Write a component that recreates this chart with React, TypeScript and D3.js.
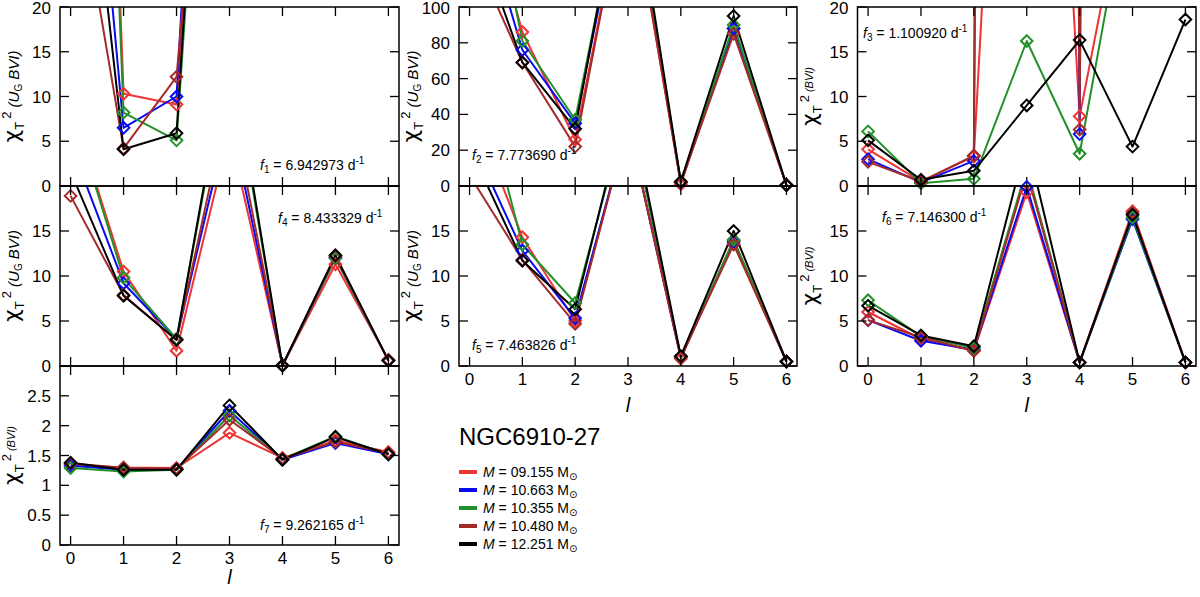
import React from 'react';
import * as d3 from 'd3';

const lValues = [0, 1, 2, 3, 4, 5, 6];
const massLabels = ['09.155', '10.663', '10.355', '10.480', '12.251'];
const seriesColors = ['#ee3434', '#0a0af0', '#23902a', '#a52a2a', '#000000'];

// rows: red, blue, green, brown, black ; columns: l = 0..6
const f1Values = [
  [170, 10.3, 9.1, 92, 100, 150, 90],
  [71, 6.5, 10.0, 115, 100, 150, 90],
  [156, 8.2, 5.1, 93, 100, 150, 90],
  [39, 4.2, 12.2, 80, 100, 150, 90],
  [57, 4.1, 5.9, 99, 100, 150, 90],
];
const f2Values = [
  [194, 86, 26, 175, 1.0, 88, 0.5],
  [176, 76, 35, 180, 2.0, 88, 0.5],
  [227, 81, 37, 185, 2.0, 90, 0.5],
  [135, 69, 22, 175, 2.0, 85, 0.5],
  [152, 69, 32, 190, 2.5, 95, 0.5],
];
const f3Values = [
  [4.1, 0.5, 3.3, 112, 7.8, 38, 60],
  [3.0, 0.4, 2.8, 1000, 5.8, 1000, 400],
  [6.1, 0.3, 0.8, 16.2, 3.6, 36, 50],
  [2.7, 0.5, 3.4, 1000, 6.3, 1000, 400],
  [5.1, 0.7, 1.7, 9.0, 16.3, 4.4, 18.6],
];
const f4Values = [
  [29.2, 10.5, 1.7, 26, 0.05, 11.3, 0.7],
  [24.7, 9.2, 3.0, 28, 0.05, 12.0, 0.6],
  [29, 9.8, 3.0, 35, 0.05, 12.0, 0.6],
  [18.9, 7.9, 2.9, 30, 0.05, 12.2, 0.6],
  [21.6, 7.8, 2.9, 36, 0.05, 12.3, 0.6],
];
const f5Values = [
  [29.5, 14.3, 5.0, 27, 0.8, 14.0, 0.5],
  [25.6, 12.8, 5.3, 27, 1.0, 13.8, 0.5],
  [36.2, 13.5, 7.0, 29, 1.0, 14.0, 0.5],
  [21.2, 11.8, 4.7, 27, 1.0, 13.5, 0.5],
  [24.3, 11.7, 6.3, 30, 1.1, 15.0, 0.5],
];
const f6Values = [
  [6.0, 3.0, 1.7, 19.3, 0.4, 17.2, 0.4],
  [5.1, 2.8, 1.8, 19.9, 0.4, 16.3, 0.4],
  [7.3, 3.3, 2.0, 22, 0.4, 16.5, 0.4],
  [5.1, 3.2, 1.7, 21.5, 0.4, 17.0, 0.4],
  [6.7, 3.4, 2.2, 25, 0.4, 16.8, 0.4],
];
const f7Values = [
  [1.35, 1.30, 1.29, 1.88, 1.46, 1.75, 1.56],
  [1.33, 1.26, 1.27, 2.25, 1.43, 1.71, 1.52],
  [1.29, 1.23, 1.26, 2.17, 1.44, 1.82, 1.52],
  [1.37, 1.29, 1.28, 2.10, 1.45, 1.73, 1.54],
  [1.38, 1.26, 1.26, 2.34, 1.43, 1.81, 1.52],
];

const frequencies = ['6.942973', '7.773690', '1.100920', '8.433329', '7.463826', '7.146300', '9.262165'];
const ticks20 = [0, 5, 10, 15, 20];
const ticks100 = [0, 20, 40, 60, 80, 100];
const ticks3 = [0, 0.5, 1, 1.5, 2, 2.5, 3];

const FONT = "'Liberation Sans', Arial, Helvetica, sans-serif";
const colX: [number, number][] = [[60, 399], [459, 797], [857.5, 1196]];
const rowY: [number, number][] = [[7, 186], [186, 366], [366, 545]];
const yLabelX = [19, 418, 817];
const lLabelOffset = [39, 46, 46];

type PanelDef = {
  idx: number;
  values: number[][];
  yMax: number;
  ticks: number[];
  col: number;
  row: number;
  band: 'UG' | 'BVI';
  note: [number, number];
  showTopLabel: boolean;
  xLabels: boolean;
};

const panels: PanelDef[] = [
  { idx: 1, values: f1Values, yMax: 20, ticks: ticks20, col: 0, row: 0, band: 'UG', note: [260, 170], showTopLabel: true, xLabels: false },
  { idx: 2, values: f2Values, yMax: 100, ticks: ticks100, col: 1, row: 0, band: 'UG', note: [472, 160], showTopLabel: true, xLabels: false },
  { idx: 3, values: f3Values, yMax: 20, ticks: ticks20, col: 2, row: 0, band: 'BVI', note: [863, 38], showTopLabel: true, xLabels: false },
  { idx: 4, values: f4Values, yMax: 20, ticks: ticks20, col: 0, row: 1, band: 'UG', note: [278, 223], showTopLabel: false, xLabels: false },
  { idx: 5, values: f5Values, yMax: 20, ticks: ticks20, col: 1, row: 1, band: 'UG', note: [472, 350], showTopLabel: false, xLabels: true },
  { idx: 6, values: f6Values, yMax: 20, ticks: ticks20, col: 2, row: 1, band: 'BVI', note: [882, 222], showTopLabel: false, xLabels: true },
  { idx: 7, values: f7Values, yMax: 3, ticks: ticks3, col: 0, row: 2, band: 'BVI', note: [260, 530], showTopLabel: false, xLabels: true },
];

function YLabel({ x, y, band }: { x: number; y: number; band: 'UG' | 'BVI' }) {
  return (
    <text transform={`translate(${x},${y}) rotate(-90)`} textAnchor="middle" fontFamily={FONT} fill="#000">
      <tspan fontSize={22} fontFamily="'DejaVu Sans', sans-serif">χ</tspan>
      <tspan fontSize={13} dy={5}>T</tspan>
      <tspan fontSize={13} dy={-13} dx={3}>2</tspan>
      {band === 'UG' ? (
        <>
          <tspan fontSize={15} dy={8} fontStyle="italic"> (U</tspan>
          <tspan fontSize={10} dy={3}>G</tspan>
          <tspan fontSize={15} dy={-3} fontStyle="italic"> BVI)</tspan>
        </>
      ) : (
        <tspan fontSize={11} dy={4} fontStyle="italic"> (BVI)</tspan>
      )}
    </text>
  );
}

function Panel({ p }: { p: PanelDef }) {
  const [x0, x1] = colX[p.col];
  const [y0, y1] = rowY[p.row];
  const x = d3.scaleLinear().domain([-0.2, 6.2]).range([x0, x1]);
  const y = d3.scaleLinear().domain([0, p.yMax]).range([y1, y0]);
  const line = d3
    .line<number>()
    .x((_, i) => x(lValues[i]))
    .y((d) => y(d));
  const clipId = `clip-${p.idx}`;
  const tl = 9;
  const s = 5.8;
  return (
    <g>
      <defs>
        <clipPath id={clipId}>
          <rect x={x0} y={y0} width={x1 - x0} height={y1 - y0} />
        </clipPath>
      </defs>
      <g clipPath={`url(#${clipId})`}>
        {p.values.map((vals, si) => (
          <path key={si} d={line(vals) || ''} fill="none" stroke={seriesColors[si]} strokeWidth={2} strokeLinejoin="round" />
        ))}
      </g>
      {p.values.map((vals, si) => (
        <g key={si}>
          {vals.map((v, i) =>
            v >= 0 && v <= p.yMax * 1.001 ? (
              <path
                key={i}
                d={`M${x(lValues[i])},${y(v) - s}L${x(lValues[i]) + s},${y(v)}L${x(lValues[i])},${y(v) + s}L${x(lValues[i]) - s},${y(v)}Z`}
                fill="none"
                stroke={seriesColors[si]}
                strokeWidth={2}
              />
            ) : null
          )}
        </g>
      ))}
      <rect x={x0} y={y0} width={x1 - x0} height={y1 - y0} fill="none" stroke="#000" strokeWidth={1.5} />
      {lValues.map((l) => (
        <g key={l}>
          <line x1={x(l)} x2={x(l)} y1={y1} y2={y1 - tl} stroke="#000" strokeWidth={1.3} />
          <line x1={x(l)} x2={x(l)} y1={y0} y2={y0 + tl} stroke="#000" strokeWidth={1.3} />
          {p.xLabels && (
            <text x={x(l)} y={y1 + 19} textAnchor="middle" fontSize={17} fontFamily={FONT}>
              {l}
            </text>
          )}
        </g>
      ))}
      {p.ticks.map((t) => (
        <g key={t}>
          <line x1={x0} x2={x0 + tl} y1={y(t)} y2={y(t)} stroke="#000" strokeWidth={1.3} />
          <line x1={x1} x2={x1 - tl} y1={y(t)} y2={y(t)} stroke="#000" strokeWidth={1.3} />
          {(t < p.yMax || p.showTopLabel) && (
            <text x={x0 - 9} y={Math.max(y(t) + 6, 14)} textAnchor="end" fontSize={17} fontFamily={FONT}>
              {String(t)}
            </text>
          )}
        </g>
      ))}
      {p.xLabels && (
        <text x={(x0 + x1) / 2} y={y1 + lLabelOffset[p.col]} textAnchor="middle" fontSize={20} fontStyle="italic" fontFamily={FONT}>
          l
        </text>
      )}
      <YLabel x={yLabelX[p.col]} y={(y0 + y1) / 2} band={p.band} />
      <text x={p.note[0]} y={p.note[1]} fontSize={14} fontFamily={FONT}>
        <tspan fontStyle="italic">f</tspan>
        <tspan fontSize={10} dy={3}>{p.idx}</tspan>
        <tspan dy={-3}>{` = ${frequencies[p.idx - 1]} d`}</tspan>
        <tspan fontSize={10} dy={-6}>-1</tspan>
      </text>
    </g>
  );
}

function Legend() {
  const lx = 459;
  const ys = d3.range(massLabels.length).map((i) => 472 + i * 18);
  return (
    <g fontFamily={FONT}>
      <text x={lx} y={445} fontSize={24}>
        NGC6910-27
      </text>
      {massLabels.map((m, i) => (
        <g key={m}>
          <line x1={lx} x2={lx + 18} y1={ys[i]} y2={ys[i]} stroke={seriesColors[i]} strokeWidth={4} />
          <text x={lx + 24} y={ys[i] + 5} fontSize={14}>
            <tspan fontStyle="italic">M</tspan>
            <tspan>{` = ${m} M`}</tspan>
            <tspan fontSize={10} dy={3} fontFamily="'DejaVu Sans', sans-serif">⊙</tspan>
          </text>
        </g>
      ))}
    </g>
  );
}

export default function App() {
  return (
    <svg width={1200} height={597} style={{ position: 'absolute', left: 0, top: 0, background: '#fff' }}>
      <rect width={1200} height={597} fill="#fff" />
      {panels.map((p) => (
        <Panel key={p.idx} p={p} />
      ))}
      <Legend />
    </svg>
  );
}
